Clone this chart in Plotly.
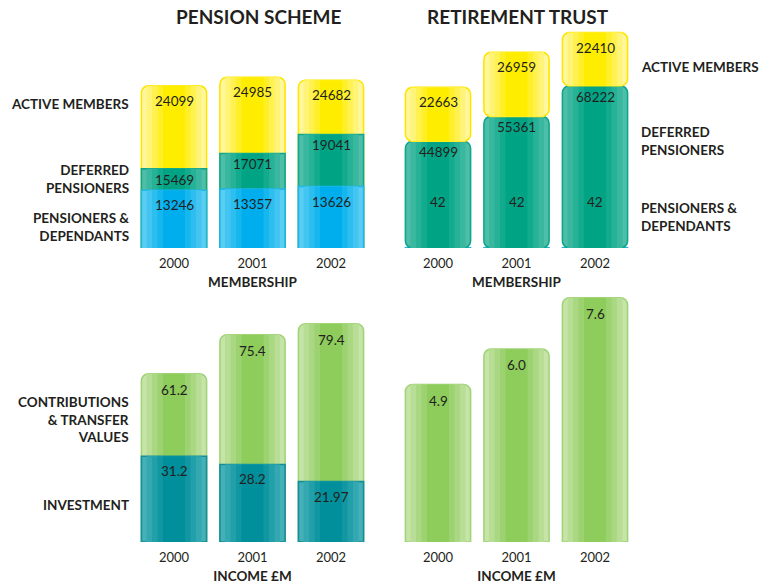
import plotly.graph_objects as go
import numpy as np

# ---------------- data ----------------
years = ["2000", "2001", "2002"]

pension_active = [24099, 24985, 24682]
pension_deferred = [15469, 17071, 19041]
pension_pensioners = [13246, 13357, 13626]

trust_active = [22663, 26959, 22410]
trust_deferred = [44899, 55361, 68222]
trust_pensioners = [42, 42, 42]

pension_contrib = [61.2, 75.4, 79.4]
pension_invest = [31.2, 28.2, 21.97]
trust_contrib = [4.9, 6.0, 7.6]

FONT = "Lato"
TXT = "#231F20"

# colour sets: (edge colour, centre colour, border)
YELLOW = ("#FFF6A0", "#FFED00", "#FFE600")
GREEN = ("#4DBFA8", "#00A485", "#10A68B")
BLUE = ("#5ACDF2", "#00AEEE", "#1DB7E8")
LGREEN = ("#C6E4A8", "#8ECC5C", "#A1D478")
TEAL = ("#45B0B8", "#008F9B", "#148F99")

STRIPES = [0.83, 0.70, 0.56, 0.42, 0.28]


def fmt(v):
    if isinstance(v, (int, np.integer)):
        return str(int(v))
    s = f"{v:.2f}".rstrip("0")
    return s + "0" if s.endswith(".") else s


def mix(c1, c2, t):
    a = [int(c1[i:i + 2], 16) for i in (1, 3, 5)]
    b = [int(c2[i:i + 2], 16) for i in (1, 3, 5)]
    return "#" + "".join(f"{round(p + (q - p) * t):02X}" for p, q in zip(a, b))


fig = go.Figure()


def layer(xa, ya, values, colors, base=None):
    edge, centre, border = colors
    n = len(STRIPES)
    for k, w in enumerate(STRIPES):
        col = mix(edge, centre, k / (n - 1))
        if k == 0:
            marker = dict(color=col, cornerradius=7, line=dict(color=border, width=1.6))
        else:
            marker = dict(color=col, line=dict(width=0))
        fig.add_trace(go.Bar(x=years, y=values, base=base, xaxis=xa, yaxis=ya, width=w,
                             marker=marker, hoverinfo="y" if k == 0 else "skip"))


def labels(xa, ya, values, tops, shift):
    for i, (v, t) in enumerate(zip(values, tops)):
        fig.add_annotation(x=i, y=float(t), xref=xa, yref=ya, text=fmt(v), showarrow=False,
                           yanchor="middle", yshift=shift,
                           font=dict(family=FONT, size=13.5, color=TXT))


# Pension scheme membership (overlaid layers)
layer("x", "y", pension_active, YELLOW)
layer("x", "y", pension_deferred, GREEN)
layer("x", "y", pension_pensioners, BLUE)
labels("x", "y", pension_active, pension_active, -15)
labels("x", "y", pension_deferred, pension_deferred, -11)
labels("x", "y", pension_pensioners, pension_pensioners, -15)

# Retirement trust membership (stacked layers)
tp = np.array(trust_pensioners)
td = np.array(trust_deferred)
ta = np.array(trust_active)
layer("x2", "y2", trust_pensioners, BLUE)
layer("x2", "y2", trust_deferred, GREEN, base=tp)
layer("x2", "y2", trust_active, YELLOW, base=tp + td)
labels("x2", "y2", trust_active, tp + td + ta, -15)
labels("x2", "y2", trust_deferred, tp + td, -11)
labels("x2", "y2", trust_pensioners, tp, 46)

# Pension scheme income
layer("x3", "y3", pension_contrib, LGREEN)
layer("x3", "y3", pension_invest, TEAL)
labels("x3", "y3", pension_contrib, pension_contrib, -16)
labels("x3", "y3", pension_invest, pension_invest, -15)

# Retirement trust income
layer("x4", "y4", trust_contrib, LGREEN)
labels("x4", "y4", trust_contrib, trust_contrib, -16)

W, H = 762, 585


def px_x(a, b):
    return [a / W, b / W]


def px_y(top, bottom):
    return [1 - bottom / H, 1 - top / H]


xdom_p = px_x(134.75, 370.25)
xdom_t = px_x(398.75, 634.25)


def xax(dom, anchor, title):
    return dict(domain=dom, anchor=anchor, type="category", range=[-0.5, 2.5],
                showgrid=False, zeroline=False, showline=False, ticks="",
                tickfont=dict(family=FONT, size=13, color=TXT), ticklabelstandoff=6,
                title=dict(text=title, standoff=7,
                           font=dict(family=FONT, size=13.5, color=TXT, weight="bold")),
                fixedrange=True)


def yax(dom, anchor, rng):
    return dict(domain=dom, anchor=anchor, range=rng, visible=False, fixedrange=True)


fig.update_layout(
    width=W, height=H, margin=dict(l=0, r=0, t=0, b=0),
    paper_bgcolor="white", plot_bgcolor="rgba(0,0,0,0)",
    barmode="overlay", showlegend=False,
    xaxis=xax(xdom_p, "y", "MEMBERSHIP"),
    yaxis=yax(px_y(30, 248), "x", [7239, 29903]),
    xaxis2=xax(xdom_t, "y2", "MEMBERSHIP"),
    yaxis2=yax(px_y(30, 248), "x2", [0, 91762]),
    xaxis3=xax(xdom_p, "y3", "INCOME £M"),
    yaxis3=yax(px_y(310, 542), "x3", [0, 84.4]),
    xaxis4=xax(xdom_t, "y4", "INCOME £M"),
    yaxis4=yax(px_y(290, 542), "x4", [0, 7.84]),
)


def note(text, x, y, anchor, size=13.5, align=None):
    fig.add_annotation(text=text, x=x / W, y=1 - y / H, xref="paper", yref="paper",
                       xanchor=anchor, yanchor="middle", showarrow=False,
                       align=align or anchor,
                       font=dict(family=FONT, size=size, color=TXT, weight="bold"))


note("PENSION SCHEME", 258, 16, "center", size=19)
note("RETIREMENT TRUST", 518, 16, "center", size=19)

note("ACTIVE MEMBERS", 131, 104, "right")
note("DEFERRED<br>PENSIONERS", 131, 179, "right")
note("PENSIONERS &<br>DEPENDANTS", 131, 227, "right")

note("ACTIVE MEMBERS", 639, 67, "left")
note("DEFERRED<br>PENSIONERS", 639, 141, "left")
note("PENSIONERS &<br>DEPENDANTS", 639, 217, "left")

note("CONTRIBUTIONS<br>& TRANSFER<br>VALUES", 131, 419, "right")
note("INVESTMENT", 131, 505, "right")

fig.write_html("out.html")
